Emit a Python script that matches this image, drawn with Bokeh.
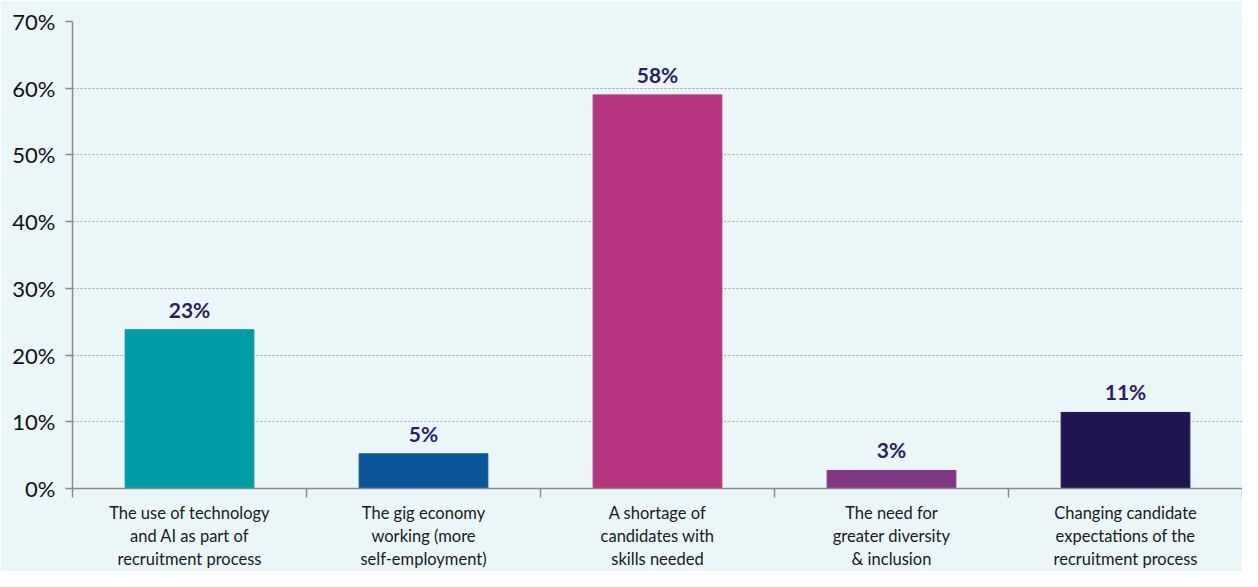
from bokeh.plotting import figure
from bokeh.models import Range1d, FixedTicker, PrintfTickFormatter, ColumnDataSource
from bokeh.embed import file_html
from bokeh.resources import INLINE
from bokeh.core.properties import value

categories = [
    "The use of technology\nand AI as part of\nrecruitment process",
    "The gig economy\nworking (more\nself-employment)",
    "A shortage of\ncandidates with\nskills needed",
    "The need for\ngreater diversity\n& inclusion",
    "Changing candidate\nexpectations of the\nrecruitment process",
]
values = [23.8, 5.2, 59.0, 2.7, 11.4]
labels = ["23%", "5%", "58%", "3%", "11%"]
colors = ["#009ba5", "#0b5699", "#b5367f", "#7f3784", "#211551"]
y_ticks = [0, 10, 20, 30, 40, 50, 60, 70]

n = len(categories)
centers = [i + 0.5 for i in range(n)]
edges = [float(i) for i in range(n + 1)]

src = ColumnDataSource(dict(x=centers, top=values, lab=labels, color=colors))

BG = "#ebf6f8"
FONT = "Lato"

p = figure(width=1242, height=571, output_backend="svg", toolbar_location=None,
           x_range=Range1d(0, n), y_range=Range1d(0, 70),
           background_fill_color=BG, border_fill_color=BG, outline_line_color=None,
           min_border_left=72, min_border_right=0, min_border_top=21, min_border_bottom=10)

p.vbar(x="x", top="top", bottom=0, width=0.55, color="color", source=src)
p.text(x="x", y="top", text="lab", source=src, y_offset=-8,
       text_align="center", text_baseline="bottom",
       text_font=value(FONT), text_font_style="bold", text_font_size="21px",
       text_color="#2b1f5e")

# x axis
xa = p.xaxis[0]
xa.ticker = FixedTicker(ticks=centers, minor_ticks=edges)
xa.major_label_overrides = {c: lab for c, lab in zip(centers, categories)}
xa.major_tick_out = 0
xa.major_tick_in = 0
xa.minor_tick_out = 9
xa.minor_tick_in = 0
xa.minor_tick_line_color = "#8a8a8a"
xa.minor_tick_line_width = 1.5
xa.axis_line_color = "#8a8a8a"
xa.axis_line_width = 1.5
xa.major_label_text_font = FONT
xa.major_label_text_font_size = "16.5px"
xa.major_label_text_color = "#1a1a1a"
xa.major_label_standoff = 5
xa.major_label_text_line_height = 1.15

# y axis
ya = p.yaxis[0]
ya.ticker = FixedTicker(ticks=y_ticks)
ya.formatter = PrintfTickFormatter(format="%d%%")
ya.minor_tick_line_color = None
ya.major_tick_out = 7
ya.major_tick_in = 0
ya.major_tick_line_color = "#8a8a8a"
ya.major_tick_line_width = 1.5
ya.axis_line_color = "#8a8a8a"
ya.axis_line_width = 1.5
ya.major_label_text_font = FONT
ya.major_label_text_font_size = "22px"
ya.major_label_text_color = "#111111"
ya.major_label_standoff = 10

p.xgrid.grid_line_color = None
p.ygrid.grid_line_color = "#a3a3a3"
p.ygrid.grid_line_dash = "2 2"
p.ygrid.grid_line_width = 1.2

open("out.html", "w").write(file_html(p, INLINE))
